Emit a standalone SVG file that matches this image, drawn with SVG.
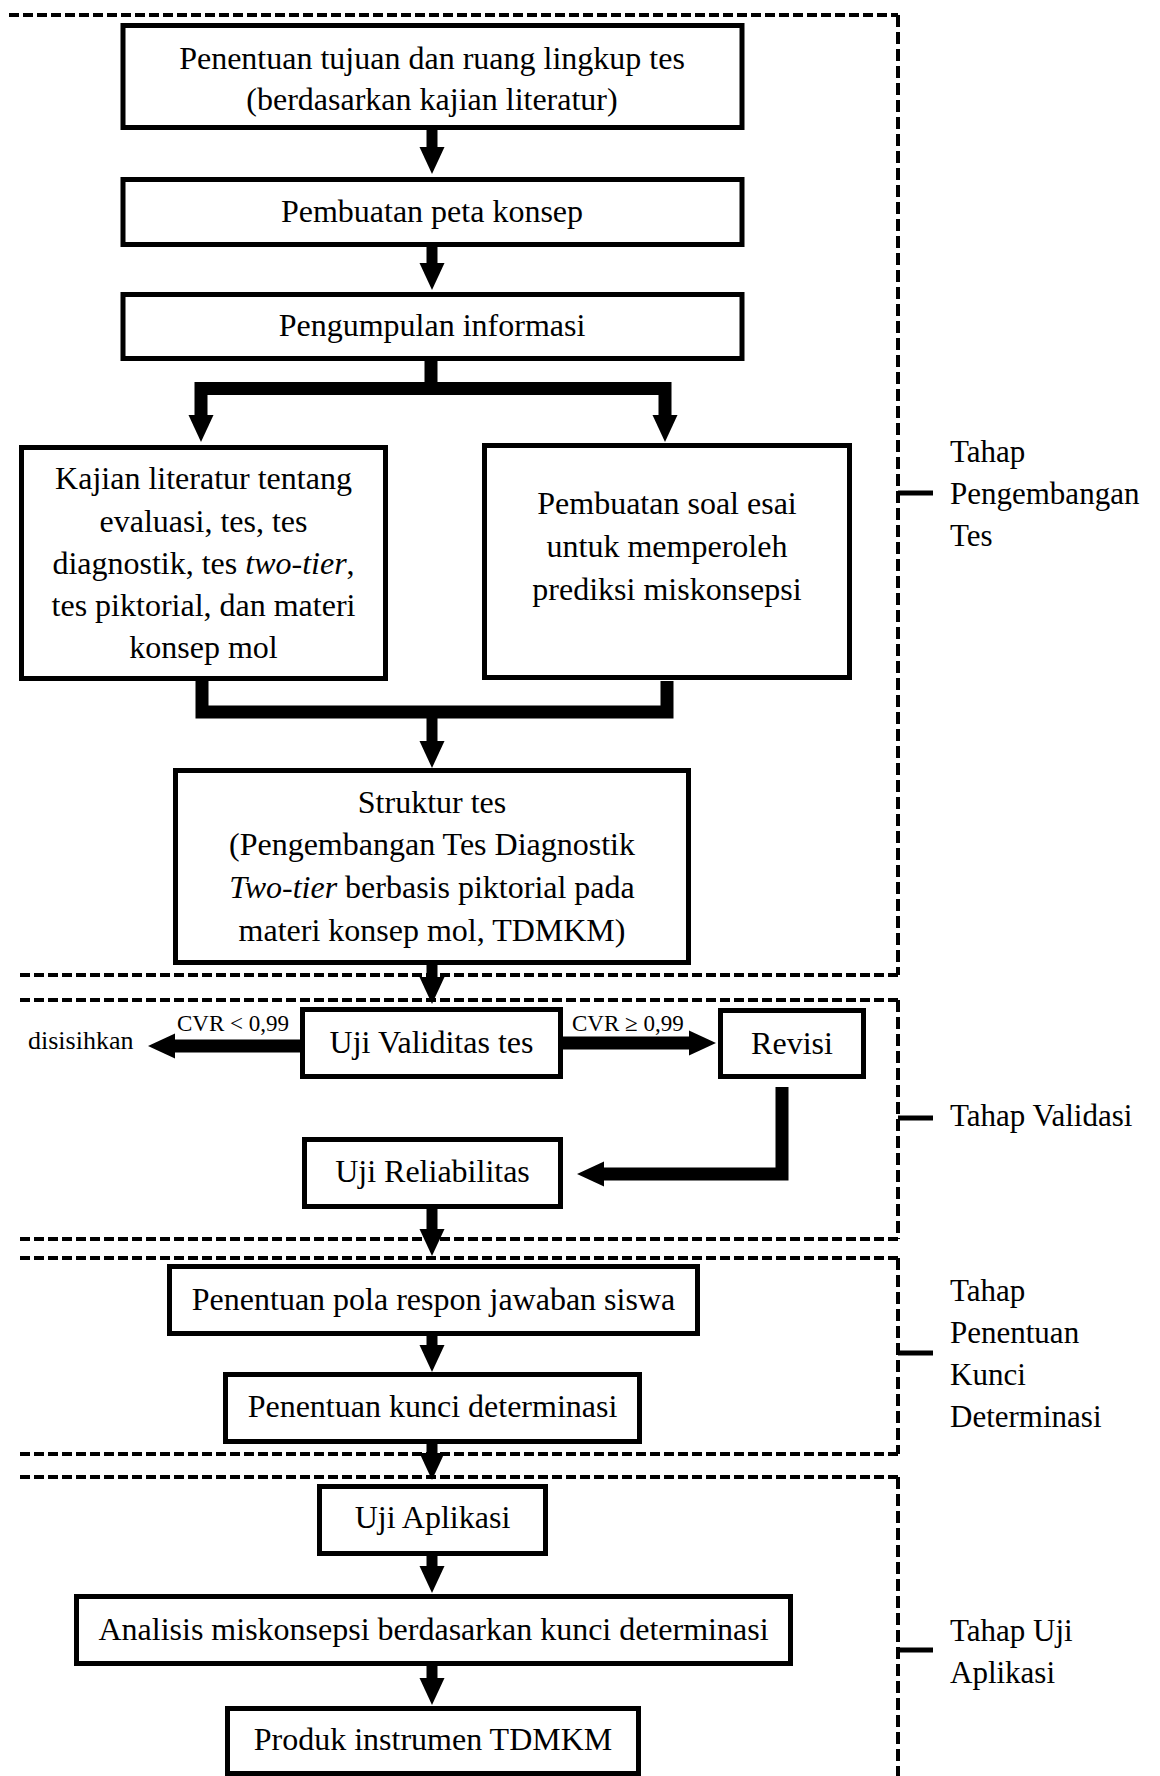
<svg xmlns="http://www.w3.org/2000/svg" width="1160" height="1776" viewBox="0 0 1160 1776">
<style>
text{font-family:"Liberation Serif","Times New Roman",serif;fill:#000}
.t{font-size:32px;text-anchor:middle}
.lbl{font-size:31px}
.box{fill:#fff;stroke:#000;stroke-width:5}
.hd{fill:none;stroke:#000;stroke-width:4;stroke-dasharray:10 4}
.vd{fill:none;stroke:#000;stroke-width:4;stroke-dasharray:12 5}
.tick{stroke:#000;stroke-width:5}
.c{fill:none;stroke:#000;stroke-width:11;stroke-linejoin:miter}
.cw{fill:none;stroke:#000;stroke-width:13;stroke-linejoin:miter}
</style>
<defs>
<marker id="ah" markerUnits="userSpaceOnUse" markerWidth="27" markerHeight="26" viewBox="0 -13 27 26" refX="0" refY="0" orient="auto" overflow="visible">
<path d="M-1,-12.5 L26,0 L-1,12.5 Z" fill="#000"/>
</marker>
</defs>

<g id="sections">
<path class="hd" d="M9,15 H898"/>
<path class="vd" d="M898,15 V975"/>
<path class="hd" d="M20,975 H898"/>
<path class="hd" d="M20,1000 H898"/>
<path class="vd" d="M898,1000 V1239"/>
<path class="hd" d="M20,1239 H898"/>
<path class="hd" d="M20,1258 H898"/>
<path class="vd" d="M898,1258 V1454"/>
<path class="hd" d="M20,1454 H898"/>
<path class="hd" d="M20,1477 H898"/>
<path class="vd" d="M898,1477 V1776"/>
<line class="tick" x1="898" y1="493" x2="933" y2="493"/>
<line class="tick" x1="898" y1="1118" x2="933" y2="1118"/>
<line class="tick" x1="898" y1="1353" x2="933" y2="1353"/>
<line class="tick" x1="898" y1="1650" x2="933" y2="1650"/>
<text class="lbl" x="950" y="462">Tahap</text>
<text class="lbl" x="950" y="504">Pengembangan</text>
<text class="lbl" x="950" y="546">Tes</text>
<text class="lbl" x="950" y="1126">Tahap Validasi</text>
<text class="lbl" x="950" y="1301">Tahap</text>
<text class="lbl" x="950" y="1343">Penentuan</text>
<text class="lbl" x="950" y="1385">Kunci</text>
<text class="lbl" x="950" y="1427">Determinasi</text>
<text class="lbl" x="950" y="1641">Tahap Uji</text>
<text class="lbl" x="950" y="1683">Aplikasi</text>
</g>

<g id="connectors">
<path class="c" d="M432,130 V148" marker-end="url(#ah)"/>
<path class="c" d="M432,247 V264" marker-end="url(#ah)"/>
<path class="cw" d="M431,361 V388.5 H201 V416" marker-end="url(#ah)"/>
<path class="cw" d="M431,388.5 H665 V416" marker-end="url(#ah)"/>
<path class="cw" d="M202,681 V712 H667 V681"/>
<path class="c" d="M432,712 V742" marker-end="url(#ah)"/>
<path class="c" d="M432,965 V978" marker-end="url(#ah)"/>
<path class="cw" d="M300,1046 H174" marker-end="url(#ah)"/>
<path class="cw" d="M563,1043 H690" marker-end="url(#ah)"/>
<path class="cw" d="M782,1087 V1174 H603" marker-end="url(#ah)"/>
<path class="c" d="M432,1209 V1230" marker-end="url(#ah)"/>
<path class="c" d="M432,1336 V1346" marker-end="url(#ah)"/>
<path class="c" d="M432,1444 V1454" marker-end="url(#ah)"/>
<path class="c" d="M432,1556 V1567" marker-end="url(#ah)"/>
<path class="c" d="M432,1666 V1679" marker-end="url(#ah)"/>
<text x="28" y="1049" style="font-size:26px">disisihkan</text>
<text x="177" y="1031" style="font-size:23px">CVR &lt; 0,99</text>
<text x="572" y="1031" style="font-size:23px">CVR ≥ 0,99</text>
</g>

<g id="n1">
<rect class="box" x="123" y="25.5" width="619" height="102"/>
<text class="t" x="432" y="69">Penentuan tujuan dan ruang lingkup tes</text>
<text class="t" x="432" y="110">(berdasarkan kajian literatur)</text>
</g>
<g id="n2">
<rect class="box" x="123" y="179.5" width="619" height="65"/>
<text class="t" x="432" y="222">Pembuatan peta konsep</text>
</g>
<g id="n3">
<rect class="box" x="123" y="294.5" width="619" height="64"/>
<text class="t" x="432" y="336">Pengumpulan informasi</text>
</g>
<g id="n4">
<rect class="box" x="21.5" y="447.5" width="364" height="231"/>
<text class="t" x="203.5" y="489">Kajian literatur tentang</text>
<text class="t" x="203.5" y="532">evaluasi, tes, tes</text>
<text class="t" x="203.5" y="574">diagnostik, tes <tspan font-style="italic">two-tier</tspan>,</text>
<text class="t" x="203.5" y="616">tes piktorial, dan materi</text>
<text class="t" x="203.5" y="658">konsep mol</text>
</g>
<g id="n5">
<rect class="box" x="484.5" y="445.5" width="365" height="232"/>
<text class="t" x="667" y="514">Pembuatan soal esai</text>
<text class="t" x="667" y="557">untuk memperoleh</text>
<text class="t" x="667" y="600">prediksi miskonsepsi</text>
</g>
<g id="n6">
<rect class="box" x="175.5" y="770.5" width="513" height="192"/>
<text class="t" x="432" y="813">Struktur tes</text>
<text class="t" x="432" y="855">(Pengembangan Tes Diagnostik</text>
<text class="t" x="432" y="898"><tspan font-style="italic">Two-tier</tspan> berbasis piktorial pada</text>
<text class="t" x="432" y="941">materi konsep mol, TDMKM)</text>
</g>
<g id="n7">
<rect class="box" x="302.5" y="1009.5" width="258" height="67"/>
<text class="t" x="431.5" y="1053">Uji Validitas tes</text>
</g>
<g id="n8">
<rect class="box" x="720.5" y="1010.5" width="143" height="66"/>
<text class="t" x="792" y="1054">Revisi</text>
</g>
<g id="n9">
<rect class="box" x="304.5" y="1139.5" width="256" height="67"/>
<text class="t" x="432.5" y="1182">Uji Reliabilitas</text>
</g>
<g id="n10">
<rect class="box" x="169.5" y="1266.5" width="528" height="67"/>
<text class="t" x="433.5" y="1310">Penentuan pola respon jawaban siswa</text>
</g>
<g id="n11">
<rect class="box" x="225.5" y="1374.5" width="414" height="67"/>
<text class="t" x="432.5" y="1417">Penentuan kunci determinasi</text>
</g>
<g id="n12">
<rect class="box" x="319.5" y="1486.5" width="226" height="67"/>
<text class="t" x="432.5" y="1528">Uji Aplikasi</text>
</g>
<g id="n13">
<rect class="box" x="76.5" y="1596.5" width="714" height="67"/>
<text class="t" x="433.5" y="1640">Analisis miskonsepsi berdasarkan kunci determinasi</text>
</g>
<g id="n14">
<rect class="box" x="227.5" y="1708.5" width="411" height="65"/>
<text class="t" x="433" y="1750">Produk instrumen TDMKM</text>
</g>
</svg>
